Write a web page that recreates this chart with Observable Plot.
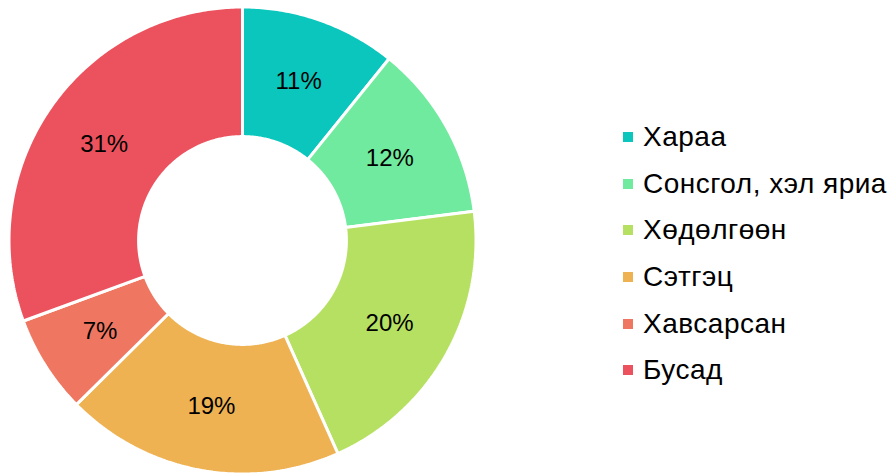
<!DOCTYPE html>
<html>
<head>
<meta charset="utf-8">
<script src="https://cdn.jsdelivr.net/npm/d3@7"></script>
<script src="https://cdn.jsdelivr.net/npm/@observablehq/plot@0.6"></script>
<style>
  html, body { margin: 0; padding: 0; background: #fff; }
  #wrap { position: relative; width: 892px; height: 474px; font-family: "Liberation Sans", Arial, sans-serif; }
  #legend { position: absolute; left: 623px; top: 114px; }
  .item { display: flex; align-items: center; height: 46.6px; font-size: 28px; letter-spacing: 0.5px; color: #000; white-space: nowrap; }
  .sw { width: 10px; height: 10px; margin-right: 10px; flex: none; }
</style>
</head>
<body>
<div id="wrap"><div id="legend"></div></div>
<script>
const categories = ["Хараа", "Сонсгол, хэл яриа", "Хөдөлгөөн", "Сэтгэц", "Хавсарсан", "Бусад"];
const values = [10.8, 12.2, 20.3, 19.3, 6.8, 30.6];
const labels = ["11%", "12%", "20%", "19%", "7%", "31%"];
const colors = ["#0AC6BD", "#70EA9E", "#B6E062", "#EEB253", "#EF7761", "#EC525E"];

const INNER = 0.445, OUTER = 1;
const arcs = d3.pie().sort(null)(values);

const pts = [];
arcs.forEach((a, i) => {
  const n = Math.max(8, Math.ceil((a.endAngle - a.startAngle) / 0.01));
  const poly = [];
  for (let k = 0; k <= n; k++) {
    const t = a.startAngle + (a.endAngle - a.startAngle) * k / n;
    poly.push([OUTER * Math.sin(t), OUTER * Math.cos(t)]);
  }
  for (let k = n; k >= 0; k--) {
    const t = a.startAngle + (a.endAngle - a.startAngle) * k / n;
    poly.push([INNER * Math.sin(t), INNER * Math.cos(t)]);
  }
  poly.push(poly[0]);
  poly.forEach(([x, y]) => pts.push({cat: categories[i], x, y}));
});

const R = (INNER + OUTER) / 2;
const labelData = arcs.map((a, i) => {
  const m = (a.startAngle + a.endAngle) / 2;
  return {label: labels[i], x: R * Math.sin(m), y: R * Math.cos(m)};
});

const chart = Plot.plot({
  width: 892,
  height: 474,
  margin: 0,
  style: {fontFamily: "Liberation Sans, Arial, sans-serif", background: "white"},
  x: {domain: [-1, 1], range: [8.5, 475.5], axis: null},
  y: {domain: [-1, 1], range: [473.5, 6.5], axis: null},
  color: {domain: categories, range: colors},
  marks: [
    Plot.line(pts, {x: "x", y: "y", z: "cat", fill: "cat", stroke: "white", strokeWidth: 3, strokeLinejoin: "miter", curve: "linear"}),
    Plot.text(labelData, {x: "x", y: "y", text: "label", fontSize: 24, fill: "#000"})
  ]
});
document.getElementById("wrap").prepend(chart);
chart.style.position = "absolute";
chart.style.left = "0";
chart.style.top = "0";

const legend = document.getElementById("legend");
categories.forEach((c, i) => {
  const it = document.createElement("div");
  it.className = "item";
  const sw = document.createElement("span");
  sw.className = "sw";
  sw.style.background = colors[i];
  const tx = document.createElement("span");
  tx.textContent = c;
  it.append(sw, tx);
  legend.append(it);
});
</script>
</body>
</html>
